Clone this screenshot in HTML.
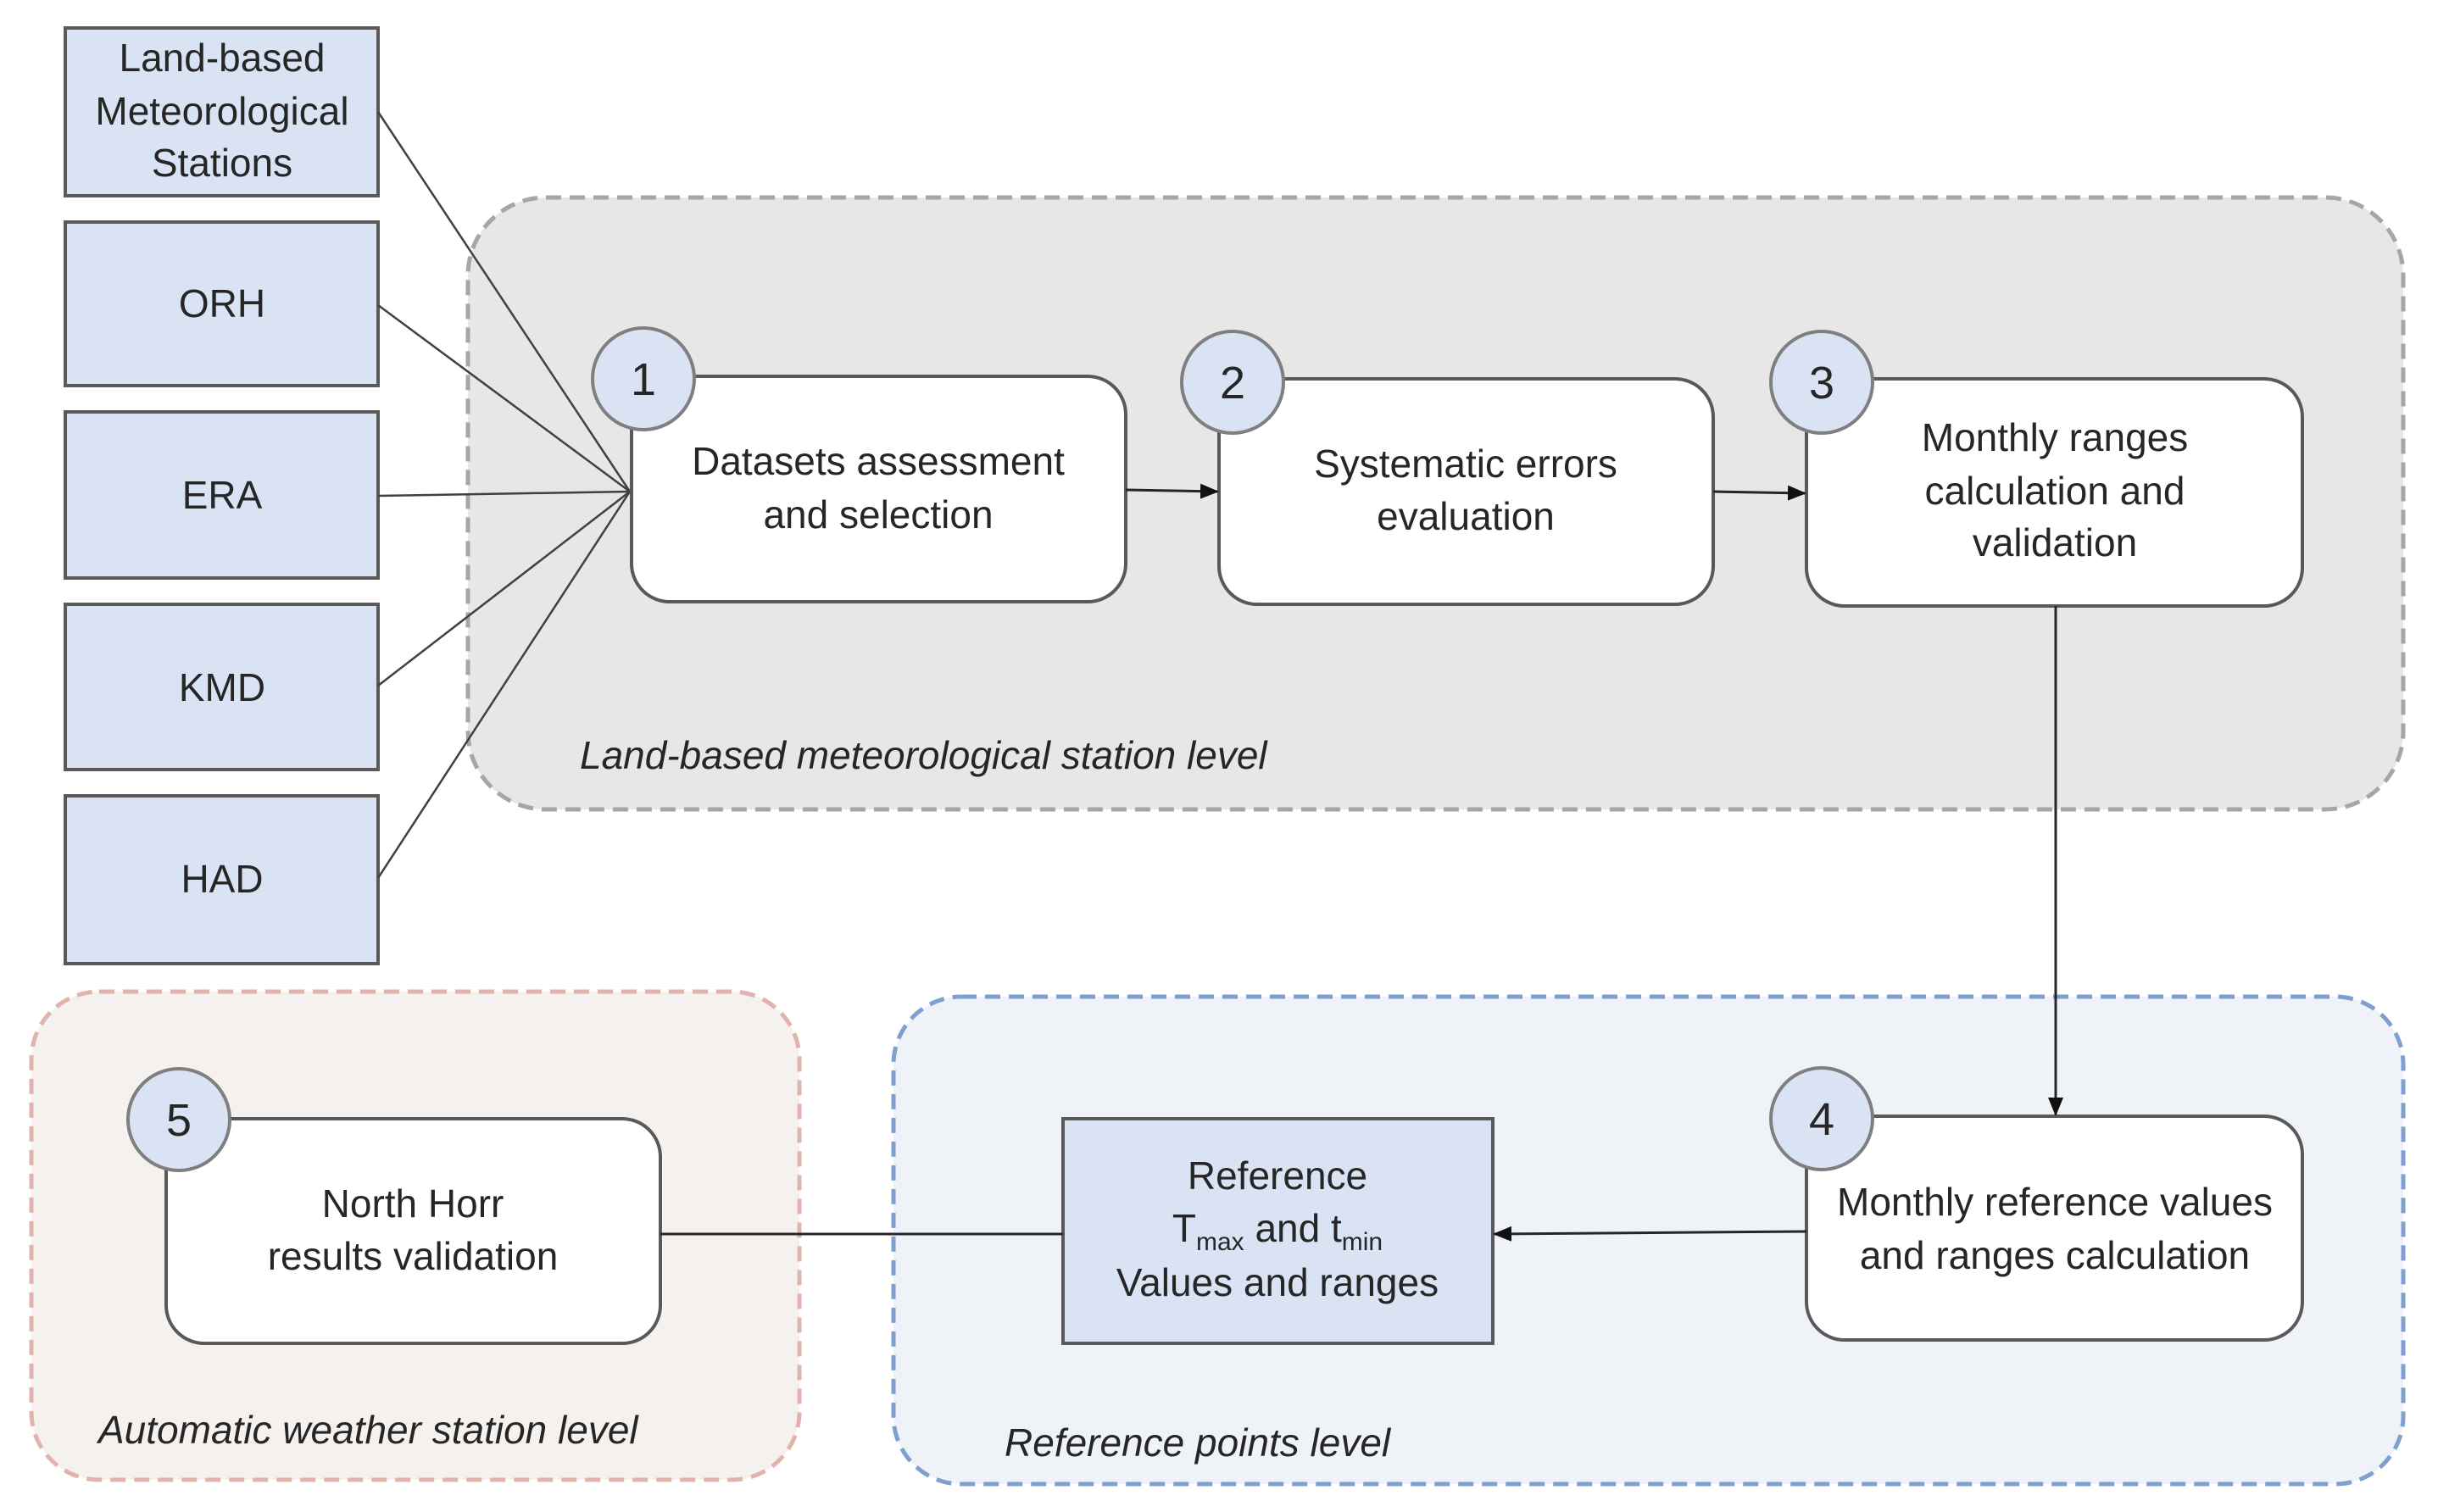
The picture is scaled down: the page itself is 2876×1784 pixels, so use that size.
<!DOCTYPE html>
<html><head><meta charset="utf-8"><style>
html,body{margin:0;padding:0;background:#fff;}
svg{display:block;}
text{font-family:"Liberation Sans Narrow","Liberation Sans",sans-serif;fill:#262626;}
</style></head><body>
<svg width="2876" height="1784" viewBox="0 0 2876 1784" xmlns="http://www.w3.org/2000/svg">
<defs>
<marker id="ar" markerWidth="10" markerHeight="10" refX="9" refY="5" orient="auto" markerUnits="userSpaceOnUse" viewBox="0 0 10 10">
<path d="M0,0 L10,5 L0,10 z" fill="#000"/></marker>
<marker id="arb" markerWidth="22" markerHeight="18" refX="20" refY="9" orient="auto" markerUnits="userSpaceOnUse">
<path d="M0,0 L22,9 L0,18 z" fill="#111"/></marker>
</defs>
<!-- groups -->
<rect x="552" y="233" width="2283" height="722" rx="92" fill="#e7e7e7" stroke="#a6a6a6" stroke-width="5" stroke-dasharray="18,10"/>
<rect x="1054" y="1176" width="1781" height="575" rx="80" fill="#eff3f8" stroke="#7f9fd0" stroke-width="5" stroke-dasharray="18,10"/>
<rect x="37" y="1170" width="906" height="576" rx="80" fill="#f5f1ee" stroke="#e0b4ac" stroke-width="5" stroke-dasharray="18,10"/>

<!-- source boxes -->
<g fill="#dae3f3" stroke="#595959" stroke-width="4">
<rect x="77" y="33" width="369" height="198"/>
<rect x="77" y="262" width="369" height="193"/>
<rect x="77" y="486" width="369" height="196"/>
<rect x="77" y="713" width="369" height="195"/>
<rect x="77" y="939" width="369" height="198"/>
</g>
<g font-size="46" text-anchor="middle">
<text x="262" y="84">Land-based</text>
<text x="262" y="147">Meteorological</text>
<text x="262" y="208">Stations</text>
<text x="262" y="374">ORH</text>
<text x="262" y="600">ERA</text>
<text x="262" y="827">KMD</text>
<text x="262" y="1053">HAD</text>
</g>

<!-- fan lines -->
<g stroke="#404040" stroke-width="2.5" fill="none">
<line x1="446" y1="132" x2="743" y2="580"/>
<line x1="446" y1="360" x2="743" y2="580"/>
<line x1="446" y1="585" x2="743" y2="580"/>
<line x1="446" y1="809" x2="743" y2="580"/>
<line x1="446" y1="1036" x2="743" y2="580"/>
</g>

<!-- nodes -->
<g fill="#fff" stroke="#595959" stroke-width="4">
<rect x="745" y="444" width="583" height="266" rx="45"/>
<rect x="1438" y="447" width="583" height="266" rx="45"/>
<rect x="2131" y="447" width="585" height="268" rx="45"/>
<rect x="2131" y="1317" width="585" height="264" rx="45"/>
<rect x="196" y="1320" width="583" height="265" rx="45"/>
<rect x="1254" y="1320" width="507" height="265" fill="#dae3f3"/>
</g>

<!-- connectors -->
<g stroke="#262626" stroke-width="3" fill="none">
<line x1="1328" y1="578" x2="1436" y2="580" marker-end="url(#arb)"/>
<line x1="2021" y1="580" x2="2129" y2="582" marker-end="url(#arb)"/>
<line x1="2425" y1="715" x2="2425" y2="1315" marker-end="url(#arb)"/>
<line x1="2131" y1="1453" x2="1763" y2="1456" marker-end="url(#arb)"/>
<line x1="1254" y1="1456" x2="779" y2="1456"/>
</g>

<!-- circles -->
<g fill="#dae3f3" stroke="#7f7f7f" stroke-width="4">
<circle cx="759" cy="447" r="60"/>
<circle cx="1454" cy="451" r="60"/>
<circle cx="2149" cy="451" r="60"/>
<circle cx="2149" cy="1320" r="60"/>
<circle cx="211" cy="1321" r="60"/>
</g>
<g font-size="54" text-anchor="middle">
<text x="759" y="466">1</text>
<text x="1454" y="470">2</text>
<text x="2149" y="470">3</text>
<text x="2149" y="1339">4</text>
<text x="211" y="1340">5</text>
</g>

<g font-size="46" text-anchor="middle">
<text x="1036" y="560">Datasets assessment</text>
<text x="1036" y="623">and selection</text>
<text x="1729" y="563">Systematic errors</text>
<text x="1729" y="625">evaluation</text>
<text x="2424" y="532">Monthly ranges</text>
<text x="2424" y="595">calculation and</text>
<text x="2424" y="656">validation</text>
<text x="2424" y="1434">Monthly reference values</text>
<text x="2424" y="1497">and ranges calculation</text>
<text x="487" y="1436">North Horr</text>
<text x="487" y="1498">results validation</text>
<text x="1507" y="1403">Reference</text>
<text x="1507" y="1465">T<tspan font-size="30" dy="10">max</tspan><tspan dy="-10"> and t</tspan><tspan font-size="30" dy="10">min</tspan></text>
<text x="1507" y="1529">Values and ranges</text>
</g>

<g font-size="46" font-style="italic">
<text x="684" y="907">Land-based meteorological station level</text>
<text x="116" y="1703">Automatic weather station level</text>
<text x="1185" y="1718">Reference points level</text>
</g>
</svg>
</body></html>
